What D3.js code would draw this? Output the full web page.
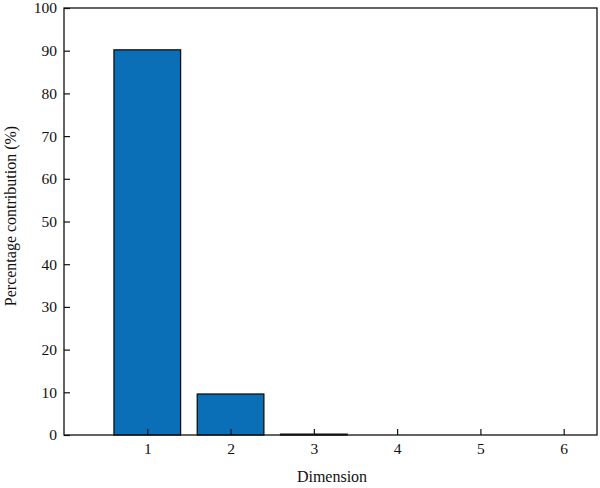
<!DOCTYPE html>
<html><head><meta charset="utf-8">
<script src="https://cdn.jsdelivr.net/npm/d3@7"></script>
<style>body{margin:0;background:#fff}svg{display:block}text{font-family:"Liberation Serif","DejaVu Serif",serif;fill:#111}</style>
</head><body>
<script>
const categories = [1, 2, 3, 4, 5, 6];
const values = [90.2, 9.6, 0.2, 0, 0, 0];
const yTicks = [0, 10, 20, 30, 40, 50, 60, 70, 80, 90, 100];
const xLabel = "Dimension";
const yLabel = "Percentage contribution (%)";

const W = 600, H = 488;
const m = {left: 64, right: 3, top: 8, bottom: 53};
const svg = d3.select("body").append("svg").attr("width", W).attr("height", H);
const x = d3.scaleLinear().domain([0, 6.4]).range([m.left, W - m.right]);
const y = d3.scaleLinear().domain([0, 100]).range([H - m.bottom, m.top]);
const bw = x(0.8) - x(0);

svg.append("g").selectAll("rect").data(categories).join("rect")
  .attr("x", d => x(d) - bw / 2)
  .attr("y", (d, i) => y(values[i]))
  .attr("width", bw)
  .attr("height", (d, i) => y(0) - y(values[i]))
  .attr("fill", "#0b6fb8").attr("stroke", "#111").attr("stroke-width", 1.3);

const yAxis = svg.append("g").attr("transform", `translate(${m.left},0)`)
  .call(d3.axisLeft(y).tickValues(yTicks).tickSize(-6).tickPadding(7));
const xAxis = svg.append("g").attr("transform", `translate(0,${H - m.bottom})`)
  .call(d3.axisBottom(x).tickValues(categories).tickFormat(d3.format("d")).tickSize(-6).tickPadding(8));
[yAxis, xAxis].forEach(g => {
  g.select(".domain").remove();
  g.selectAll("line").attr("stroke", "#111").attr("stroke-width", 1.2);
  g.selectAll("text").style("font-size", "15.5px").attr("fill", "#111");
});

svg.append("rect").attr("x", m.left).attr("y", m.top)
  .attr("width", W - m.right - m.left).attr("height", H - m.bottom - m.top)
  .attr("fill", "none").attr("stroke", "#111").attr("stroke-width", 1.3);

svg.append("text").attr("x", 332).attr("y", 482)
  .attr("text-anchor", "middle").style("font-size", "16px").text(xLabel);
svg.append("text").attr("transform", `translate(16,216) rotate(-90)`)
  .attr("text-anchor", "middle").style("font-size", "16px").text(yLabel);
</script>
</body></html>
